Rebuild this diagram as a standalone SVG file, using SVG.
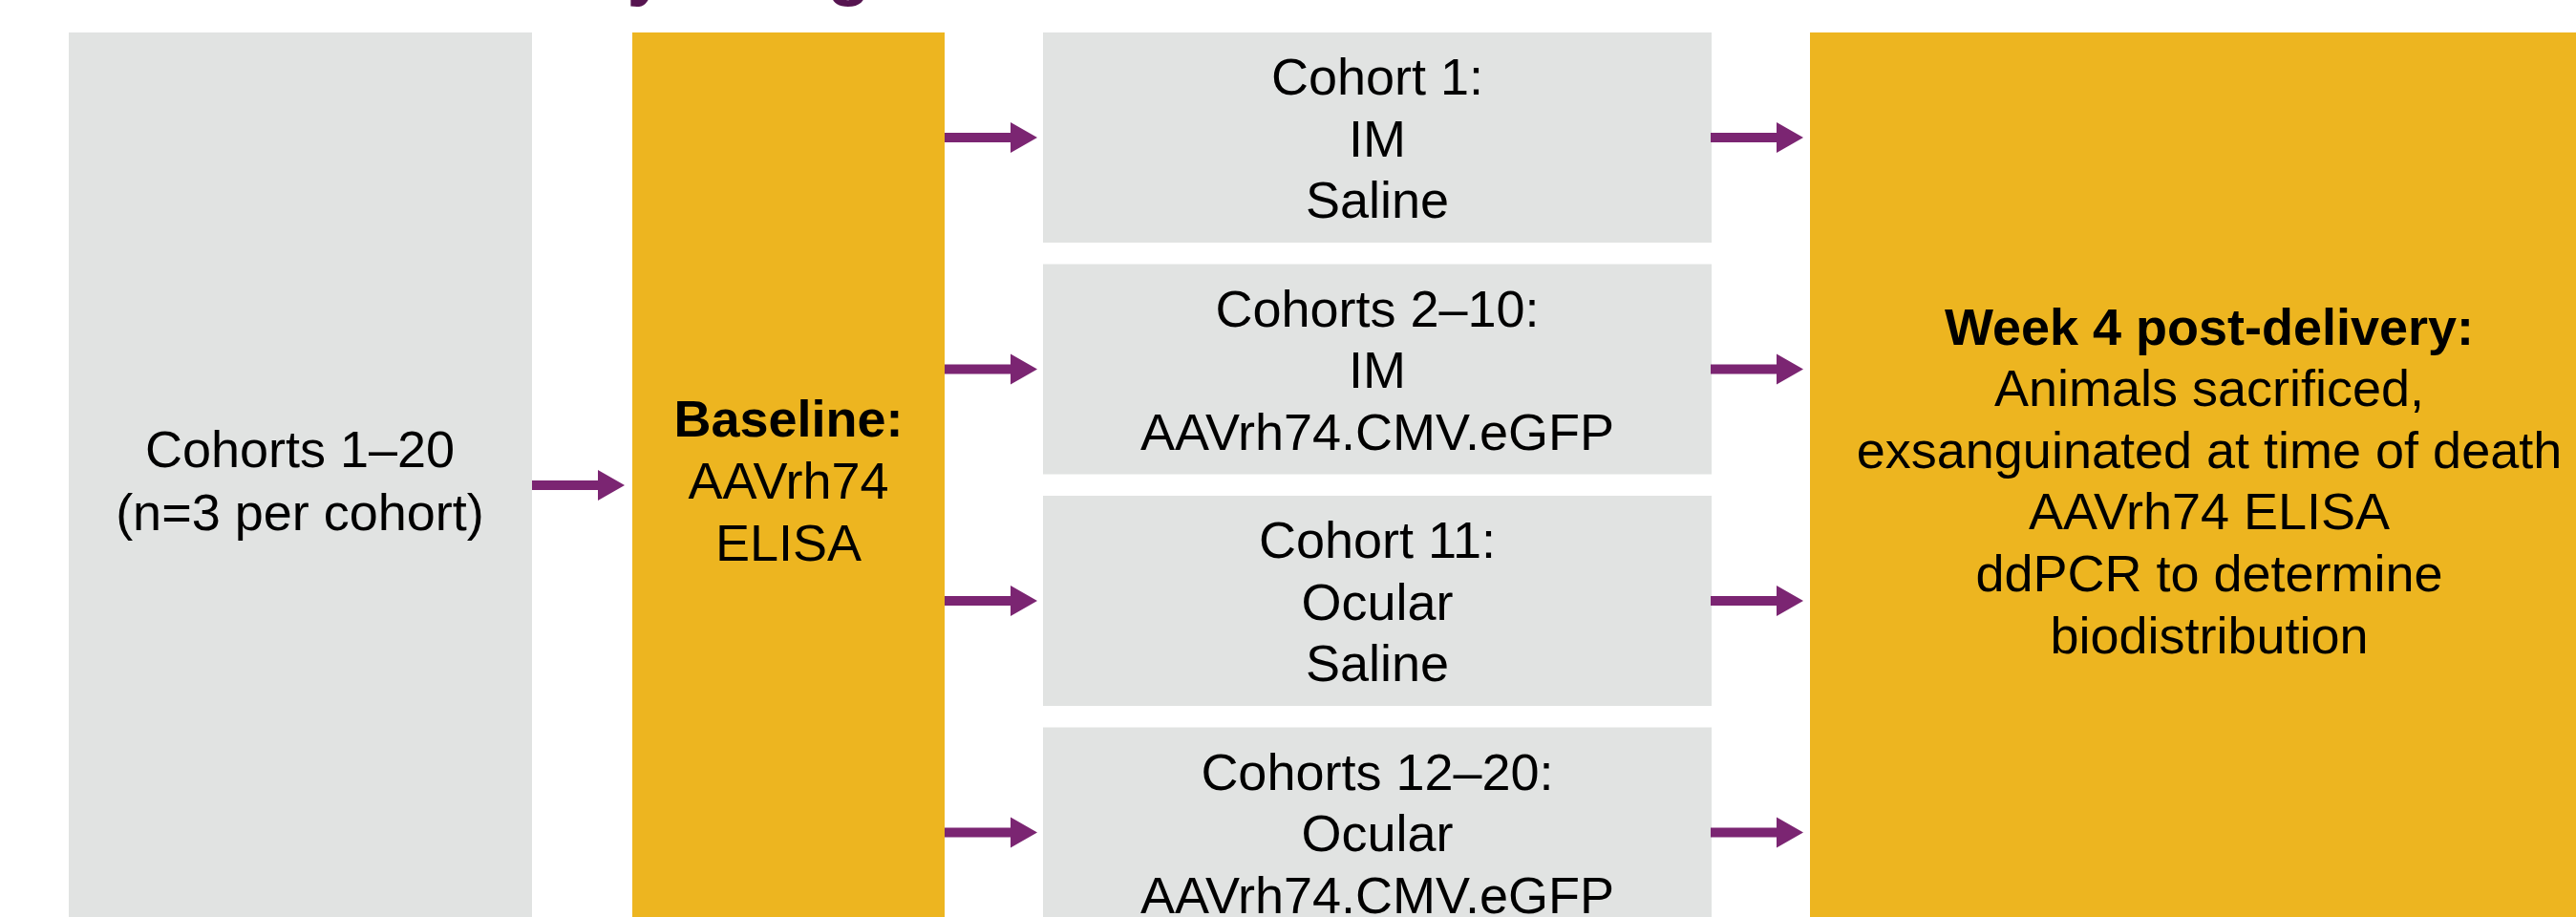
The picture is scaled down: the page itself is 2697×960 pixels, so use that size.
<svg xmlns="http://www.w3.org/2000/svg" width="2697" height="960" viewBox="0 0 2697 960">
  <style>
    .gray { fill: #E1E3E2; }
    .gold { fill: #EDB520; }
    .t { font-family: "Liberation Sans", Arial, sans-serif; font-size: 54px; fill: #000000; text-anchor: middle; }
    .b { font-weight: bold; }
    .title { font-family: "Liberation Sans", Arial, sans-serif; font-size: 74px; font-weight: bold; fill: #561450; }
    .arrow { fill: #7B2572; }
  </style>
  <defs>
    <path id="arrS" d="M-97,-5 L-28,-5 L-28,-16 L0,0 L-28,16 L-28,5 L-97,5 Z"/>
  </defs>
  <rect width="2697" height="960" fill="#FFFFFF"/>

  <text class="title" x="492" y="-8.5">Study design</text>

  <g id="node-cohorts">
    <rect class="gray" x="72" y="34" width="485" height="948"/>
    <text class="t" x="314" y="489">Cohorts 1–20</text>
    <text class="t" x="314" y="555">(n=3 per cohort)</text>
  </g>

  <g id="node-baseline">
    <rect class="gold" x="662" y="34" width="327" height="948"/>
    <text class="t b" x="825.5" y="457">Baseline:</text>
    <text class="t" x="825.5" y="522">AAVrh74</text>
    <text class="t" x="825.5" y="587">ELISA</text>
  </g>

  <g id="node-c1">
    <rect class="gray" x="1092" y="34" width="700" height="220"/>
    <text class="t" x="1442" y="99">Cohort 1:</text>
    <text class="t" x="1442" y="163.5">IM</text>
    <text class="t" x="1442" y="228">Saline</text>
  </g>

  <g id="node-c2">
    <rect class="gray" x="1092" y="276.5" width="700" height="220"/>
    <text class="t" x="1442" y="341.5">Cohorts 2–10:</text>
    <text class="t" x="1442" y="406">IM</text>
    <text class="t" x="1442" y="470.5">AAVrh74.CMV.eGFP</text>
  </g>

  <g id="node-c3">
    <rect class="gray" x="1092" y="519" width="700" height="220"/>
    <text class="t" x="1442" y="584">Cohort 11:</text>
    <text class="t" x="1442" y="648.5">Ocular</text>
    <text class="t" x="1442" y="713">Saline</text>
  </g>

  <g id="node-c4">
    <rect class="gray" x="1092" y="761.5" width="700" height="220"/>
    <text class="t" x="1442" y="826.5">Cohorts 12–20:</text>
    <text class="t" x="1442" y="891">Ocular</text>
    <text class="t" x="1442" y="955.5">AAVrh74.CMV.eGFP</text>
  </g>

  <g id="node-week4">
    <rect class="gold" x="1895" y="34" width="840" height="948"/>
    <text class="t b" x="2313" y="361">Week 4 post-delivery:</text>
    <text class="t" x="2313" y="425">Animals sacrificed,</text>
    <text class="t" x="2313" y="490">exsanguinated at time of death</text>
    <text class="t" x="2313" y="554">AAVrh74 ELISA</text>
    <text class="t" x="2313" y="619">ddPCR to determine</text>
    <text class="t" x="2313" y="684">biodistribution</text>
  </g>

  <g id="connectors" class="arrow">
    <use href="#arrS" x="654" y="508"/>
    <use href="#arrS" x="1086" y="144"/>
    <use href="#arrS" x="1086" y="386.5"/>
    <use href="#arrS" x="1086" y="629"/>
    <use href="#arrS" x="1086" y="871.5"/>
    <use href="#arrS" x="1888" y="144"/>
    <use href="#arrS" x="1888" y="386.5"/>
    <use href="#arrS" x="1888" y="629"/>
    <use href="#arrS" x="1888" y="871.5"/>
  </g>
</svg>
